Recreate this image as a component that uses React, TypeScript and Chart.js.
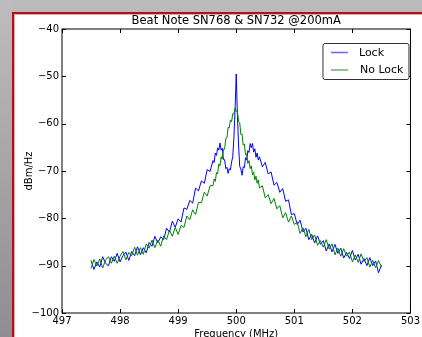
import React, { useEffect, useRef } from "react";
import { Chart, registerables } from "chart.js";

Chart.register(...registerables);

const TITLE = "Beat Note SN768 & SN732 @200mA";
const X_LABEL = "Frequency (MHz)";
const Y_LABEL = "dBm/Hz";
const SERIES_NAMES = ["Lock", "No Lock"];
const SERIES_COLORS = ["#0000ff", "#008000"];
const X_MIN = 497;
const X_MAX = 503;
const Y_MIN = -100;
const Y_MAX = -40;

const FREQ = [
  497.5, 497.55, 497.6, 497.65, 497.7, 497.75, 497.8, 497.85, 497.9, 497.95,
  498.0, 498.05, 498.1, 498.15, 498.2, 498.25, 498.3, 498.35, 498.4, 498.45,
  498.5, 498.55, 498.6, 498.65, 498.7, 498.75, 498.8, 498.85, 498.9, 498.95,
  499.0, 499.05, 499.1, 499.15, 499.2, 499.25, 499.3, 499.35, 499.4, 499.45,
  499.5, 499.55, 499.6,
  499.62, 499.64, 499.66, 499.68, 499.7, 499.72, 499.74, 499.76, 499.78, 499.8,
  499.82, 499.84, 499.86, 499.88, 499.9, 499.92, 499.94, 499.96, 499.98, 500.0,
  500.02, 500.04, 500.06, 500.08, 500.1, 500.12, 500.14, 500.16, 500.18, 500.2,
  500.22, 500.24, 500.26, 500.28, 500.3, 500.32, 500.34, 500.36, 500.38,
  500.4, 500.45, 500.5, 500.55, 500.6, 500.65, 500.7, 500.75, 500.8, 500.85,
  500.9, 500.95, 501.0, 501.05, 501.1, 501.15, 501.2, 501.25, 501.3, 501.35,
  501.4, 501.45, 501.5, 501.55, 501.6, 501.65, 501.7, 501.75, 501.8, 501.85,
  501.9, 501.95, 502.0, 502.05, 502.1, 502.15, 502.2, 502.25, 502.3, 502.35,
  502.4, 502.45, 502.5,
];

const LOCK = [
  -88.9, -90.8, -89.2, -90.3, -88.1, -89.5, -90.0, -88.1, -89.1, -87.4,
  -89.2, -87.9, -87.1, -88.9, -87.0, -87.9, -86.0, -87.7, -86.2, -87.3,
  -85.1, -85.9, -83.8, -85.2, -83.9, -84.5, -82.1, -82.9, -80.6, -81.9,
  -80.1, -80.8, -77.8, -78.1, -76.2, -76.8, -73.6, -74.2, -72.1, -72.6,
  -69.7, -70.1, -67.8,
  -68.2, -66.2, -66.7, -65.1, -65.6, -64.1, -65.6, -65.2, -67.6, -67.6,
  -69.5, -69.2, -70.5, -69.5, -69.8, -68.1, -67.0, -63.0, -57.0, -49.5,
  -58.0, -64.5, -69.0, -69.6, -70.9, -69.1, -69.3, -67.2, -67.7, -65.7,
  -66.1, -64.2, -65.1, -64.2, -66.0, -65.3, -67.1, -66.2, -67.7,
  -67.0, -69.1, -68.2, -70.6, -70.2, -73.0, -72.4, -74.5, -73.7, -76.4,
  -76.1, -79.2, -79.0, -81.3, -80.4, -82.9, -82.1, -84.5, -83.4, -85.2,
  -83.7, -85.5, -84.7, -86.9, -85.4, -87.1, -85.5, -87.4, -86.3, -88.4,
  -87.2, -88.5, -86.8, -88.8, -87.6, -89.7, -88.5, -90.0, -88.3, -90.0,
  -89.0, -91.5, -89.9,
];

const NO_LOCK = [
  -90.6, -88.7, -90.1, -88.6, -90.5, -88.8, -88.1, -89.5, -88.0, -89.5,
  -88.0, -87.0, -88.8, -87.2, -87.9, -86.1, -87.8, -86.2, -87.6, -85.4,
  -86.3, -84.6, -86.2, -84.6, -85.9, -83.7, -84.5, -82.5, -83.8, -81.9,
  -83.4, -81.5, -81.9, -79.5, -80.3, -78.2, -79.2, -76.6, -76.7, -74.5,
  -75.3, -73.1, -73.1,
  -71.7, -72.2, -70.3, -70.6, -68.5, -68.9, -67.0, -67.5, -65.4, -65.4,
  -63.1, -63.0, -60.8, -60.9, -59.2, -59.6, -57.9, -57.9, -56.7, -57.4,
  -57.3, -59.6, -59.8, -62.3, -62.2, -64.5, -64.3, -66.6, -66.4, -68.4,
  -67.8, -69.5, -68.9, -70.8, -70.2, -71.9, -71.1, -72.6, -71.9,
  -73.6, -73.1, -75.7, -75.0, -76.9, -75.8, -78.0, -77.3, -79.9, -78.8,
  -80.8, -79.5, -81.3, -80.8, -83.2, -82.0, -83.9, -82.3, -84.5, -83.5,
  -85.7, -84.7, -86.1, -84.5, -86.5, -85.4, -87.7, -86.3, -88.0, -86.4,
  -88.0, -87.1, -89.2, -87.7, -89.3, -87.5, -89.1, -88.3, -90.3, -88.9,
  -90.4, -88.9, -90.3,
];

const FONT = "'DejaVu Sans', 'Liberation Sans', sans-serif";

const titlePlugin = {
  id: "mplTitle",
  afterDraw(chart: any) {
    const { ctx, chartArea } = chart;
    ctx.save();
    ctx.font = `11.5px ${FONT}`;
    ctx.fillStyle = "#000";
    ctx.textAlign = "center";
    ctx.textBaseline = "middle";
    ctx.fillText(TITLE, (chartArea.left + chartArea.right) / 2, chartArea.top - 7.5);
    ctx.restore();
  },
};

const framePlugin = {
  id: "mplFrame",
  afterDatasetsDraw(chart: any) {
    const { ctx, chartArea } = chart;
    const { left, right, top, bottom } = chartArea;
    const xs = chart.scales.x;
    const ys = chart.scales.y;
    const len = 4;
    ctx.save();
    ctx.strokeStyle = "#000";
    ctx.lineWidth = 1;
    ctx.beginPath();
    xs.ticks.forEach((t: any) => {
      const px = Math.round(xs.getPixelForValue(t.value)) + 0.5;
      ctx.moveTo(px, bottom);
      ctx.lineTo(px, bottom - len);
      ctx.moveTo(px, top);
      ctx.lineTo(px, top + len);
    });
    ys.ticks.forEach((t: any) => {
      const py = Math.round(ys.getPixelForValue(t.value)) + 0.5;
      ctx.moveTo(left, py);
      ctx.lineTo(left + len, py);
      ctx.moveTo(right, py);
      ctx.lineTo(right - len, py);
    });
    ctx.stroke();
    ctx.strokeRect(left, top, right - left, bottom - top);
    ctx.restore();
  },
};

const legendPlugin = {
  id: "mplLegend",
  afterDraw(chart: any) {
    const { ctx, chartArea } = chart;
    const w = 86;
    const h = 36;
    const x0 = chartArea.right - 2 - w + 0.5;
    const y0 = chartArea.top + 14 + 0.5;
    ctx.save();
    ctx.fillStyle = "#fff";
    ctx.strokeStyle = "#333";
    ctx.lineWidth = 1;
    ctx.beginPath();
    if ((ctx as any).roundRect) {
      (ctx as any).roundRect(x0, y0, w, h, 2);
    } else {
      ctx.rect(x0, y0, w, h);
    }
    ctx.fill();
    ctx.stroke();
    ctx.font = `11px ${FONT}`;
    ctx.textBaseline = "middle";
    ctx.textAlign = "left";
    chart.data.datasets.forEach((ds: any, i: number) => {
      const ly = y0 + 9 + i * 17.5;
      ctx.strokeStyle = ds.borderColor;
      ctx.globalAlpha = 0.6;
      ctx.lineWidth = 1.5;
      ctx.beginPath();
      ctx.moveTo(x0 + 8, ly);
      ctx.lineTo(x0 + 25, ly);
      ctx.stroke();
      ctx.globalAlpha = 1;
      ctx.fillStyle = "#000";
      ctx.fillText(ds.label, x0 + 36 + i, ly + 0.5);
    });
    ctx.restore();
  },
};

export default function App() {
  const canvasRef = useRef<HTMLCanvasElement | null>(null);

  useEffect(() => {
    document.body.style.margin = "0";
    document.body.style.overflow = "hidden";
    const canvas = canvasRef.current;
    if (!canvas) return;
    const series = [LOCK, NO_LOCK];
    const chart = new Chart(canvas, {
      type: "line",
      data: {
        datasets: series.map((vals, i) => ({
          label: SERIES_NAMES[i],
          data: FREQ.map((f, k) => ({ x: f, y: vals[k] })),
          borderColor: SERIES_COLORS[i],
          backgroundColor: SERIES_COLORS[i],
          borderWidth: 1,
          pointRadius: 0,
          tension: 0,
          fill: false,
          order: i === 0 ? 1 : 0,
        })),
      },
      options: {
        responsive: false,
        animation: false,
        devicePixelRatio: 1,
        layout: { padding: { left: 14, right: 10, top: 29, bottom: 0 } },
        plugins: {
          legend: { display: false },
          tooltip: { enabled: false },
          title: { display: false },
        },
        scales: {
          x: {
            type: "linear",
            min: X_MIN,
            max: X_MAX,
            grid: { display: false, drawTicks: false },
            border: { display: false },
            ticks: {
              stepSize: 1,
              autoSkip: false,
              maxRotation: 0,
              padding: 2,
              color: "#000",
              font: { family: FONT, size: 10 },
              callback: (v: any) => String(v),
            },
            title: {
              display: true,
              text: X_LABEL,
              color: "#000",
              font: { family: FONT, size: 10 },
              padding: { top: 0, bottom: -3 },
            },
            afterFit: (s: any) => {
              s.height = 24;
            },
          },
          y: {
            type: "linear",
            min: Y_MIN,
            max: Y_MAX,
            grid: { display: false, drawTicks: false },
            border: { display: false },
            ticks: {
              stepSize: 10,
              padding: 3,
              color: "#000",
              font: { family: FONT, size: 10 },
              callback: (v: any) => String(v).replace("-", "\u2212"),
            },
            title: {
              display: true,
              text: Y_LABEL,
              color: "#000",
              font: { family: FONT, size: 10 },
              padding: { top: 9, bottom: 0 },
            },
            afterFit: (s: any) => {
              s.width = 48;
            },
          },
        },
      },
      plugins: [framePlugin, legendPlugin, titlePlugin],
    } as any);
    return () => chart.destroy();
  }, []);

  return (
    <div
      style={{
        position: "fixed",
        left: 0,
        top: 0,
        width: 422,
        height: 337,
        overflow: "hidden",
        background: "#fff",
      }}
    >
      <div
        style={{
          position: "absolute",
          left: 0,
          top: 0,
          width: 422,
          height: 12,
          background: "#bababc",
        }}
      />
      <div
        style={{
          position: "absolute",
          left: 0,
          top: 0,
          width: 12,
          height: 337,
          background: "linear-gradient(180deg, #bdbdbf 0%, #8e8e92 100%)",
        }}
      />
      <div
        style={{
          position: "absolute",
          left: 12,
          top: 12,
          width: 410,
          height: 2,
          background: "#b0101a",
        }}
      />
      <div
        style={{
          position: "absolute",
          left: 12,
          top: 12,
          width: 2,
          height: 325,
          background: "#b0101a",
        }}
      />
      <div
        style={{
          position: "absolute",
          left: 14,
          top: 14,
          width: 408,
          height: 1,
          background: "#e6a8a8",
        }}
      />
      <div
        style={{
          position: "absolute",
          left: 14,
          top: 14,
          width: 1,
          height: 323,
          background: "#e6a8a8",
        }}
      />
      <canvas
        ref={canvasRef}
        width={422}
        height={337}
        style={{ position: "absolute", left: 0, top: 0, display: "block" }}
      />
    </div>
  );
}
